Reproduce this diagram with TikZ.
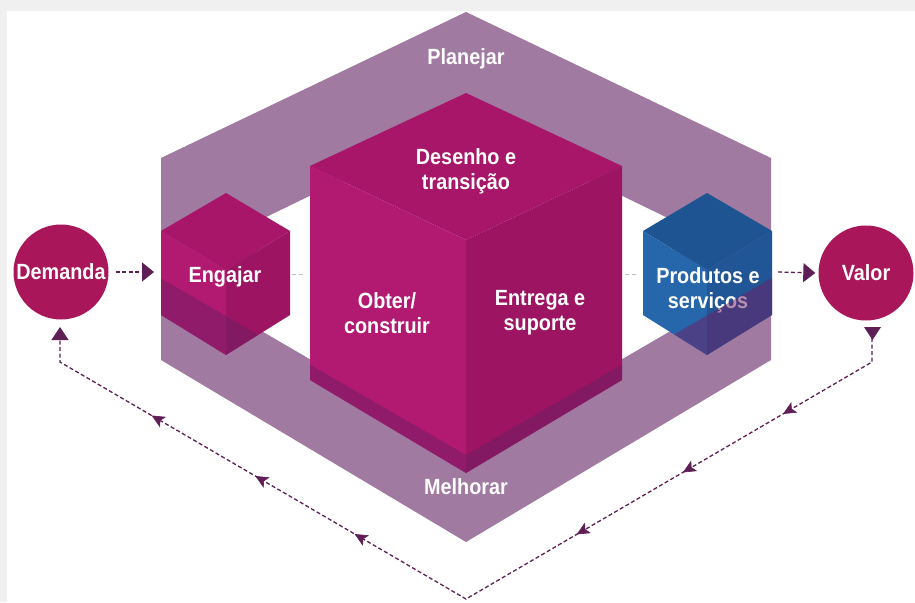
\documentclass[tikz,border=0pt]{standalone}
\usepackage{fontspec}
\setmainfont[FakeStretch=0.9]{Liberation Sans}
\usetikzlibrary{arrows.meta,decorations.markings}
\definecolor{bgc}{RGB}{240,240,240}
\definecolor{ringc}{RGB}{160,122,160}
\definecolor{ctop}{RGB}{167,22,104}
\definecolor{cleft}{RGB}{178,25,113}
\definecolor{cright}{RGB}{156,20,98}
\definecolor{btop}{RGB}{30,84,145}
\definecolor{bleft}{RGB}{38,102,170}
\definecolor{bright}{RGB}{33,86,150}
\definecolor{ovl}{RGB}{110,30,100}
\definecolor{circc}{RGB}{170,22,90}
\definecolor{arrc}{RGB}{95,30,85}
\definecolor{dashg}{RGB}{190,190,190}
\tikzset{
  lab/.style={text=white, font=\fontsize{22}{25}\selectfont\bfseries, align=center, inner sep=0pt},
  circnode/.style={circle, fill=circc, minimum size=95pt, inner sep=0pt},
  flow/.style={draw=arrc, line width=1.3pt, dash pattern=on 4pt off 2.5pt},
  gdash/.style={draw=dashg, line width=1pt, dash pattern=on 4pt off 3pt},
  mtip/.style={arrc, line width=0.6pt},
  midarrow/.style={postaction={decorate}, decoration={markings,
    mark=at position 127pt with {\arrow[mtip]{Stealth[length=13pt,width=12pt,inset=3pt]}},
    mark=at position 243pt with {\arrow[mtip]{Stealth[length=13pt,width=12pt,inset=3pt]}},
    mark=at position 366pt with {\arrow[mtip]{Stealth[length=13pt,width=12pt,inset=3pt]}},
    mark=at position 623pt with {\arrow[mtip]{Stealth[length=13pt,width=12pt,inset=3pt]}},
    mark=at position 738pt with {\arrow[mtip]{Stealth[length=13pt,width=12pt,inset=3pt]}},
    mark=at position 858pt with {\arrow[mtip]{Stealth[length=13pt,width=12pt,inset=3pt]}}}}
}
\begin{document}
\begin{tikzpicture}[x=1pt,y=-1pt]
\useasboundingbox (0,0) rectangle (915,602);
\fill[bgc] (0,0) rectangle (915,602);
\fill[white] (7,11) rectangle (915,602);

% ring
\fill[ringc, even odd rule]
  (466,12) -- (161,158) -- (161,360) -- (466,542) -- (771,360) -- (771,158) -- cycle
  (466,120) -- (258,221) -- (258,329) -- (466,450) -- (674,329) -- (674,221) -- cycle;

% central cube
\fill[ctop]   (466,93) -- (310,166) -- (466,240) -- (622,166) -- cycle;
\fill[cleft]  (310,166) -- (466,240) -- (466,473) -- (310,380) -- cycle;
\fill[cright] (622,166) -- (466,240) -- (466,473) -- (622,380) -- cycle;

% Engajar cube
\fill[ctop]   (226,193) -- (161,231) -- (226,270) -- (290,231) -- cycle;
\fill[cleft]  (161,231) -- (226,270) -- (226,355) -- (161,315) -- cycle;
\fill[cright] (290,231) -- (226,270) -- (226,355) -- (290,315) -- cycle;

% Produtos cube
\fill[btop]   (707,193) -- (643,231) -- (707,270) -- (772,231) -- cycle;
\fill[bleft]  (643,231) -- (707,270) -- (707,355) -- (643,315) -- cycle;
\fill[bright] (772,231) -- (707,270) -- (707,355) -- (772,315) -- cycle;

% texts
\node[lab] (plan) at (466,59) {Planejar};
\node[lab] (des) at (466,171) {Desenho e\\transição};
\node[lab] (obt) at (387,313) {Obter/\\construir};
\node[lab] (ent) at (540,313) {Entrega e\\suporte};
\node[lab] (mel) at (466,487) {Melhorar};
\node[lab] (eng) at (225,277) {Engajar};
\node[lab] (prod) at (708,290) {Produtos e\\serviços};

% Melhorar band seen over the cubes
\begin{scope}
  \clip (226,193) -- (290,231) -- (290,315) -- (226,355) -- (161,315) -- (161,231) -- cycle;
  \fill[ovl, opacity=0.5] (150,272) -- (466,455) -- (782,272) -- (782,600) -- (150,600) -- cycle;
\end{scope}
\begin{scope}
  \clip (466,93) -- (622,166) -- (622,380) -- (466,473) -- (310,380) -- (310,166) -- cycle;
  \fill[ovl, opacity=0.5] (150,272) -- (466,455) -- (782,272) -- (782,600) -- (150,600) -- cycle;
\end{scope}
\begin{scope}
  \clip (707,193) -- (772,231) -- (772,315) -- (707,355) -- (643,315) -- (643,231) -- cycle;
  \fill[ovl, opacity=0.5] (150,272) -- (466,455) -- (782,272) -- (782,600) -- (150,600) -- cycle;
\end{scope}

% circles
\node[circnode, lab] (dem) at (61,272) {Demanda};
\node[circnode, lab] (val) at (866,273) {Valor};

% connector coordinates
\coordinate (engL) at (154,272);
\coordinate (engR) at (292,274);
\coordinate (cubL) at (306,274);
\coordinate (cubR) at (625,274);
\coordinate (proL) at (639,274);
\coordinate (proR) at (778,272);
\coordinate (r1) at (872,338);
\coordinate (r2) at (872,362);
\coordinate (vb) at (466,599);
\coordinate (l2) at (60,362);
\coordinate (l1) at (60,327);

\draw[flow, -{Triangle[length=12pt,width=19pt]}] ([xshift=7pt]dem.east) -- (engL);
\draw[gdash] (engR) -- (cubL);
\draw[gdash] (cubR) -- (proL);
\draw[flow, -{Triangle[length=12pt,width=19pt]}] (proR) -- ([xshift=-3pt]val.west);

\fill[arrc] (864,327) -- (881,327) -- (872.5,340) -- cycle;
\draw[flow, line width=1.3pt, midarrow, -{Triangle[length=13pt,width=17pt]}]
  (r1) -- (r2) -- (vb) -- (l2) -- (l1);
\end{tikzpicture}
\end{document}
